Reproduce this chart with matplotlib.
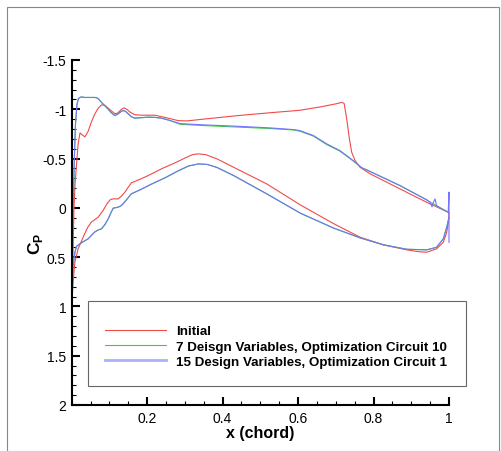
import matplotlib
matplotlib.use("Agg")
import matplotlib.pyplot as plt
from matplotlib.lines import Line2D
from matplotlib.patches import Rectangle
from matplotlib.ticker import MultipleLocator, FuncFormatter

plt.rcParams["font.family"] = ["Liberation Sans", "DejaVu Sans"]
plt.rcParams["mathtext.fontset"] = "custom"
plt.rcParams["mathtext.rm"] = "Liberation Sans"
plt.rcParams["mathtext.bf"] = "Liberation Sans:bold"

# ---- pressure coefficient data (leading edge -> trailing edge) ----
init_up_x = [0.0, 0.003, 0.006, 0.009, 0.013, 0.017, 0.022, 0.028, 0.035, 0.044, 0.052,
             0.061, 0.070, 0.079, 0.088, 0.097, 0.105, 0.114, 0.121, 0.132, 0.139, 0.146,
             0.155, 0.167, 0.185, 0.22, 0.256, 0.282, 0.305, 0.349, 0.438, 0.526, 0.605,
             0.66, 0.70, 0.716, 0.722, 0.729, 0.736, 0.742, 0.751, 0.764, 0.791, 0.83,
             0.870, 0.91, 0.950, 0.998, 1.0]
init_up_cp = [1.0, 0.5, 0.0, -0.25, -0.45, -0.65, -0.76, -0.74, -0.72, -0.78, -0.87,
              -0.95, -1.01, -1.045, -1.04, -1.01, -0.985, -0.955, -0.96, -1.0, -1.015, -1.0,
              -0.97, -0.945, -0.94, -0.94, -0.91, -0.885, -0.882, -0.9, -0.935, -0.965, -0.99,
              -1.025, -1.055, -1.07, -1.06, -0.9, -0.70, -0.565, -0.48, -0.412, -0.345, -0.27,
              -0.193, -0.115, -0.04, 0.044, 0.05]
init_lo_x = [0.0, 0.003, 0.006, 0.0085, 0.017, 0.030, 0.042, 0.052, 0.070, 0.083, 0.095,
             0.103, 0.110, 0.123, 0.132, 0.141, 0.150, 0.158, 0.181, 0.203, 0.240, 0.270,
             0.300, 0.320, 0.336, 0.355, 0.385, 0.429, 0.517, 0.606, 0.694, 0.764, 0.826,
             0.888, 0.92, 0.941, 0.967, 0.985, 0.994, 0.998, 1.0]
init_lo_cp = [1.0, 0.8, 0.65, 0.55, 0.416, 0.30, 0.2, 0.145, 0.095, 0.027, -0.05,
              -0.085, -0.091, -0.091, -0.12, -0.159, -0.21, -0.254, -0.29, -0.328, -0.40, -0.45,
              -0.505, -0.54, -0.548, -0.54, -0.497, -0.412, -0.243, -0.03, 0.16, 0.297, 0.375,
              0.426, 0.445, 0.45, 0.416, 0.348, 0.247, 0.15, 0.05]

dv7_up_x = [0.0, 0.002, 0.004, 0.007, 0.010, 0.014, 0.018, 0.022, 0.026, 0.035, 0.050,
            0.062, 0.070, 0.079, 0.088, 0.097, 0.105, 0.114, 0.122, 0.132, 0.137, 0.144,
            0.150, 0.158, 0.167, 0.185, 0.203, 0.22, 0.238, 0.261, 0.287, 0.349, 0.438,
            0.526, 0.588, 0.605, 0.641, 0.676, 0.711, 0.746, 0.769, 0.782, 0.870, 0.941,
            0.950, 0.998, 1.0]
dv7_up_cp = [1.0, 0.5, 0.0, -0.5, -0.85, -1.05, -1.11, -1.12, -1.125, -1.12, -1.12,
             -1.12, -1.11, -1.07, -1.035, -1.0, -0.965, -0.936, -0.95, -0.98, -0.988, -0.975,
             -0.953, -0.925, -0.91, -0.915, -0.92, -0.918, -0.91, -0.886, -0.848, -0.835, -0.82,
             -0.805, -0.79, -0.778, -0.727, -0.642, -0.575, -0.476, -0.406, -0.385, -0.226, -0.081,
             -0.058, 0.044, 0.05]
dv7_lo_x = [0.0, 0.002, 0.004, 0.0085, 0.013, 0.0217, 0.030, 0.0437, 0.052, 0.061, 0.070,
            0.079, 0.088, 0.097, 0.104, 0.110, 0.123, 0.130, 0.136, 0.147, 0.158, 0.185,
            0.211, 0.25, 0.282, 0.31, 0.336, 0.36, 0.385, 0.429, 0.517, 0.606, 0.694,
            0.764, 0.826, 0.888, 0.941, 0.967, 0.985, 0.994, 1.0]
dv7_lo_cp = [1.0, 0.75, 0.585, 0.45, 0.39, 0.365, 0.345, 0.314, 0.28, 0.245, 0.225,
             0.213, 0.17, 0.11, 0.05, 0.003, -0.007, -0.02, -0.04, -0.09, -0.142, -0.19,
             -0.24, -0.31, -0.375, -0.425, -0.446, -0.44, -0.41, -0.328, -0.142, 0.054, 0.205,
             0.304, 0.375, 0.42, 0.426, 0.40, 0.314, 0.196, 0.1]

dv15_up_x = [0.0, 0.002, 0.004, 0.007, 0.010, 0.014, 0.018, 0.022, 0.026, 0.035, 0.050,
             0.062, 0.070, 0.079, 0.088, 0.097, 0.105, 0.114, 0.122, 0.132, 0.137, 0.144,
             0.150, 0.158, 0.167, 0.185, 0.203, 0.22, 0.238, 0.261, 0.287, 0.349, 0.438,
             0.526, 0.588, 0.605, 0.641, 0.676, 0.711, 0.746, 0.769, 0.782, 0.870, 0.941,
             0.950, 0.955, 0.958, 0.963, 0.967, 0.98, 0.998, 1.0, 1.0]
dv15_up_cp = [1.0, 0.5, 0.0, -0.5, -0.85, -1.05, -1.11, -1.12, -1.125, -1.12, -1.12,
              -1.12, -1.11, -1.07, -1.035, -1.0, -0.965, -0.936, -0.95, -0.98, -0.988, -0.975,
              -0.953, -0.925, -0.91, -0.915, -0.92, -0.918, -0.91, -0.886, -0.855, -0.842, -0.828,
              -0.811, -0.794, -0.784, -0.733, -0.649, -0.581, -0.48, -0.406, -0.385, -0.226, -0.081,
              -0.058, -0.01, -0.05, -0.091, -0.023, 0.01, 0.044, -0.16, 0.35]
dv15_lo_x = [0.0, 0.002, 0.004, 0.0085, 0.013, 0.0217, 0.030, 0.0437, 0.052, 0.061, 0.070,
             0.079, 0.088, 0.097, 0.104, 0.110, 0.123, 0.130, 0.136, 0.147, 0.158, 0.185,
             0.211, 0.25, 0.282, 0.31, 0.336, 0.36, 0.385, 0.429, 0.517, 0.606, 0.694,
             0.764, 0.826, 0.888, 0.941, 0.967, 0.985, 0.994, 1.0]
dv15_lo_cp = [1.0, 0.75, 0.585, 0.45, 0.39, 0.365, 0.345, 0.314, 0.28, 0.245, 0.225,
              0.213, 0.17, 0.11, 0.05, 0.003, -0.007, -0.02, -0.04, -0.09, -0.142, -0.19,
              -0.24, -0.31, -0.375, -0.425, -0.446, -0.44, -0.41, -0.328, -0.142, 0.054, 0.205,
              0.304, 0.375, 0.42, 0.426, 0.40, 0.314, 0.196, 0.1]

labels = ["Initial",
          "7 Deisgn Variables, Optimization Circuit 10",
          "15 Design Variables, Optimization Circuit 1"]
colors = ["#f04a4a", "#3ccc3c", "#7474ff"]

x_ticks = [0.2, 0.4, 0.6, 0.8, 1.0]
y_ticks = [-1.5, -1.0, -0.5, 0.0, 0.5, 1.0, 1.5, 2.0]

# ---- figure ----
fig = plt.figure(figsize=(5.02, 4.52), dpi=100)
fig.add_artist(Rectangle((6.5 / 502, 0), (499 - 6.5) / 502, 1 - 7.5 / 452,
                         transform=fig.transFigure, fill=False,
                         edgecolor="#888888", linewidth=0.8))
ax = fig.add_axes([71.7 / 502, 1 - 406 / 452, (449 - 71.7) / 502, (406 - 61) / 452])

series = [(init_up_x, init_up_cp, init_lo_x, init_lo_cp),
          (dv7_up_x, dv7_up_cp, dv7_lo_x, dv7_lo_cp),
          (dv15_up_x, dv15_up_cp, dv15_lo_x, dv15_lo_cp)]
for (ux, ucp, lx, lcp), c in zip(series, colors):
    ax.plot(ux, ucp, color=c, lw=0.8, clip_on=False)
    ax.plot(lx, lcp, color=c, lw=0.8, clip_on=False)

ax.set_xlim(0, 1)
ax.set_ylim(2, -1.5)
ax.xaxis.set_major_locator(plt.FixedLocator(x_ticks))
ax.xaxis.set_minor_locator(MultipleLocator(0.05))
ax.yaxis.set_major_locator(plt.FixedLocator(y_ticks))
ax.yaxis.set_minor_locator(MultipleLocator(0.1))
fmt = FuncFormatter(lambda v, p: ("%g" % v).replace("\u2212", "-"))
ax.xaxis.set_major_formatter(fmt)
ax.yaxis.set_major_formatter(fmt)

for s in ["top", "right"]:
    ax.spines[s].set_visible(False)
for s in ["left", "bottom"]:
    ax.spines[s].set_linewidth(1.5)
ax.tick_params(which="major", direction="in", length=6, width=1.5, labelsize=10, pad=4)
ax.tick_params(which="minor", direction="in", length=3, width=0.8)

ax.set_xlabel("x (chord)", fontsize=11.5, fontweight="bold", labelpad=0)
ax.set_ylabel(r"$\mathbf{C}_{\mathbf{P}}$", fontsize=12.5)
ax.yaxis.set_label_coords(-0.07, 0.47)

# legend box
ax.add_patch(Rectangle((0.043, 0.055), 1.0445 - 0.043, 0.301 - 0.055,
                       transform=ax.transAxes, fill=False, edgecolor="#666666",
                       linewidth=0.8, clip_on=False))
handles = [Line2D([], [], color=colors[0], lw=0.8),
           Line2D([], [], color=colors[1], lw=0.8),
           Line2D([], [], color="#aab0ff", lw=2.0)]
leg = ax.legend(handles, labels, loc="center left", bbox_to_anchor=(0.088, 0.170),
                frameon=False, borderpad=0, borderaxespad=0, handlelength=4.6,
                handletextpad=0.75, labelspacing=0.22,
                prop={"size": 9.6, "weight": "bold"})

fig.savefig("out.png", dpi=100)
